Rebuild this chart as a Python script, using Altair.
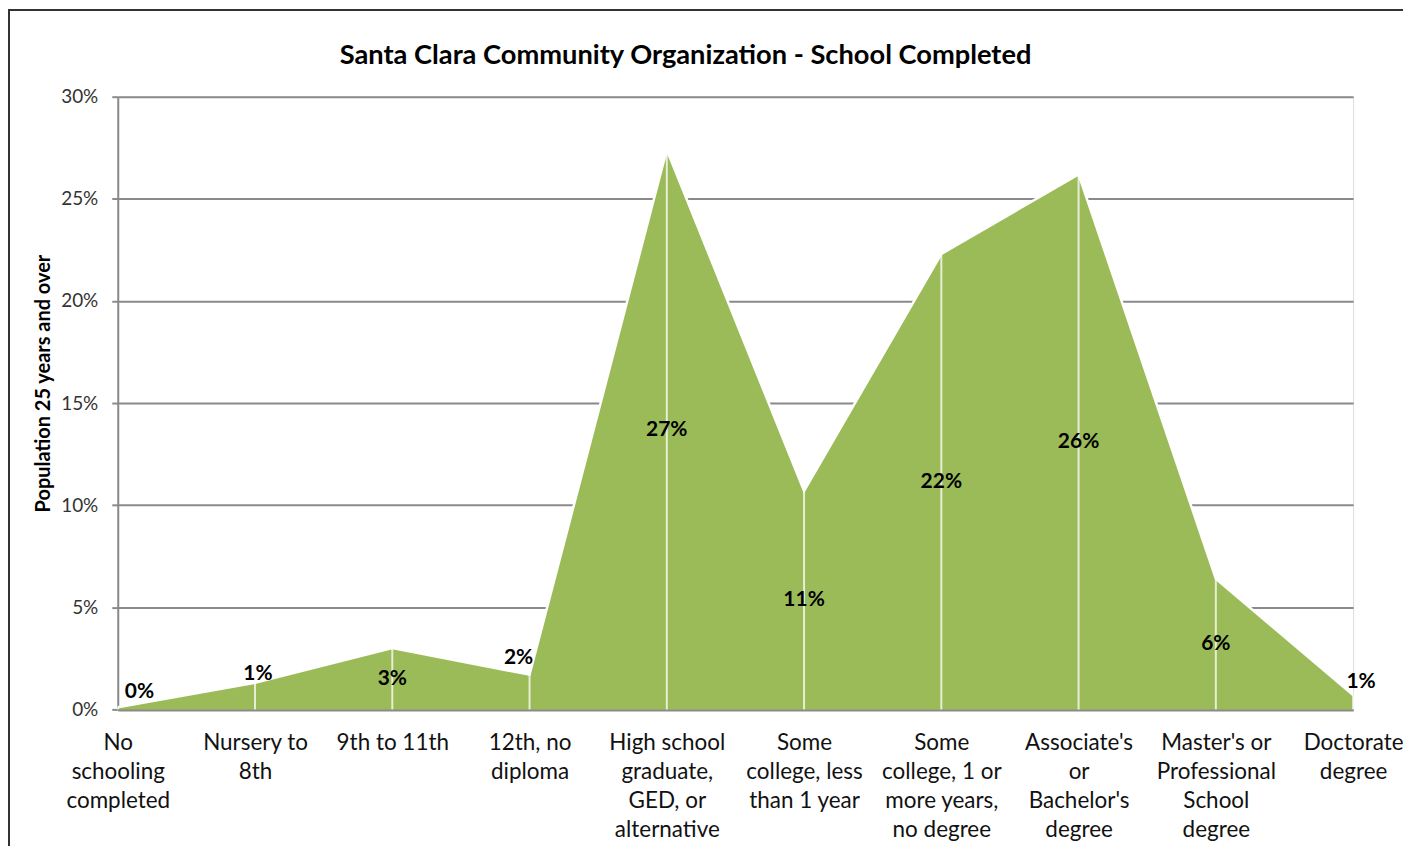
import altair as alt
import pandas as pd

# Category labels (line breaks marked with "|") and values in percent
CATEGORIES = [
    "No|schooling|completed",
    "Nursery to|8th",
    "9th to 11th",
    "12th, no|diploma",
    "High school|graduate,|GED, or|alternative",
    "Some|college, less|than 1 year",
    "Some|college, 1 or|more years,|no degree",
    "Associate's|or|Bachelor's|degree",
    "Master's or|Professional|School|degree",
    "Doctorate|degree",
]
VALUES_PCT = [0.1, 1.3, 3.0, 1.7, 27.4, 10.7, 22.3, 26.2, 6.4, 0.7]
Y_TICKS = [0, 0.05, 0.10, 0.15, 0.20, 0.25, 0.30]

TITLE = "Santa Clara Community Organization - School Completed"
Y_TITLE = "Population 25 years and over"

df = pd.DataFrame({
    "cat": CATEGORIES,
    "value": [v / 100 for v in VALUES_PCT],
    "idx": list(range(len(CATEGORIES))),
})

FONT = "Lato"
GREEN = "#9BBB59"
XS = alt.Scale(type="point", padding=0)

x_enc = alt.X(
    "cat:N",
    sort=CATEGORIES,
    scale=XS,
    axis=alt.Axis(
        title=None,
        labelExpr="split(datum.label, '|')",
        labelAngle=0,
        labelFontSize=22.5,
        labelLineHeight=29,
        labelPadding=22,
        labelColor="#111111",
        labelFont=FONT,
        labelBaseline="top",
        ticks=False,
        grid=False,
        domainColor="#8a8a8a",
        domainWidth=3,
        labelOverlap=False,
    ),
)
x_plain = alt.X("cat:N", sort=CATEGORIES, scale=XS)
y_enc = alt.Y(
    "value:Q",
    scale=alt.Scale(domain=[0, 0.3], nice=False),
    axis=alt.Axis(
        values=Y_TICKS,
        format=".0%",
        title=Y_TITLE,
        titleFont=FONT,
        titleFontSize=20,
        titleFontWeight="bold",
        titleColor="#000000",
        titleX=-74,
        titleY=287,
        titleBaseline="middle",
        titleAngle=-90,
        labelFont=FONT,
        labelFontSize=19,
        labelColor="#333333",
        labelPadding=14,
        tickSize=6,
        tickColor="#8a8a8a",
        tickWidth=2,
        grid=True,
        gridColor="#8a8a8a",
        gridWidth=2,
        domainColor="#8a8a8a",
        domainWidth=2,
    ),
)

base = alt.Chart(df)

area = base.mark_area(color=GREEN, opacity=1).encode(x=x_enc, y=y_enc)
edge = base.mark_line(color="white", strokeWidth=2.5).encode(x=x_plain, y="value:Q")
drops = base.mark_rule(color="white", opacity=0.75, strokeWidth=2).encode(
    x=x_plain, y="value:Q", y2=alt.datum(0)
)

LBL = dict(font=FONT, fontSize=21, fontWeight="bold", color="#000000", baseline="middle")


def small_label(cond, **kw):
    return base.transform_filter(cond).transform_calculate(
        lab="format(datum.value, '.0%')"
    ).mark_text(**kw, **LBL).encode(x=x_plain, y="value:Q", text="lab:N")


big = base.transform_filter("datum.value >= 0.025").transform_calculate(
    mid="datum.value / 2", lab="format(datum.value, '.0%')"
).mark_text(**LBL).encode(x=x_plain, y="mid:Q", text="lab:N")
s0 = small_label("datum.value < 0.025 && datum.idx == 0", align="left", dx=7, dy=-15)
s1 = small_label("datum.value < 0.025 && datum.idx == 1", dx=3, dy=-9)
s3 = small_label("datum.value < 0.025 && datum.idx == 3", dx=-11, dy=-17)
s9 = small_label("datum.value < 0.025 && datum.idx == 9", dx=8, dy=-13)

# chart-area frame (left and top border)
frame_left = base.mark_rule(color="#333333", strokeWidth=2).encode(
    x=alt.value(-109), y=alt.value(-88), y2=alt.value(760)
)
frame_top = base.mark_rule(color="#333333", strokeWidth=2).encode(
    x=alt.value(-110), x2=alt.value(1300), y=alt.value(-87)
)

chart = alt.layer(area, drops, edge, big, s0, s1, s3, s9, frame_left, frame_top).properties(
    width=1238,
    height=614,
    padding={"left": 110, "top": 88, "right": 50, "bottom": 136},
    autosize=alt.AutoSizeParams(type="none"),
    title=alt.TitleParams(
        TITLE, font=FONT, fontSize=27.3, fontWeight="bold", color="#000000",
        anchor="middle", offset=-84, baseline="alphabetic", dx=-50,
    ),
).configure_view(stroke=None).configure(background="white")

chart.save("out.html", embed_options={"renderer": "svg", "actions": False})
